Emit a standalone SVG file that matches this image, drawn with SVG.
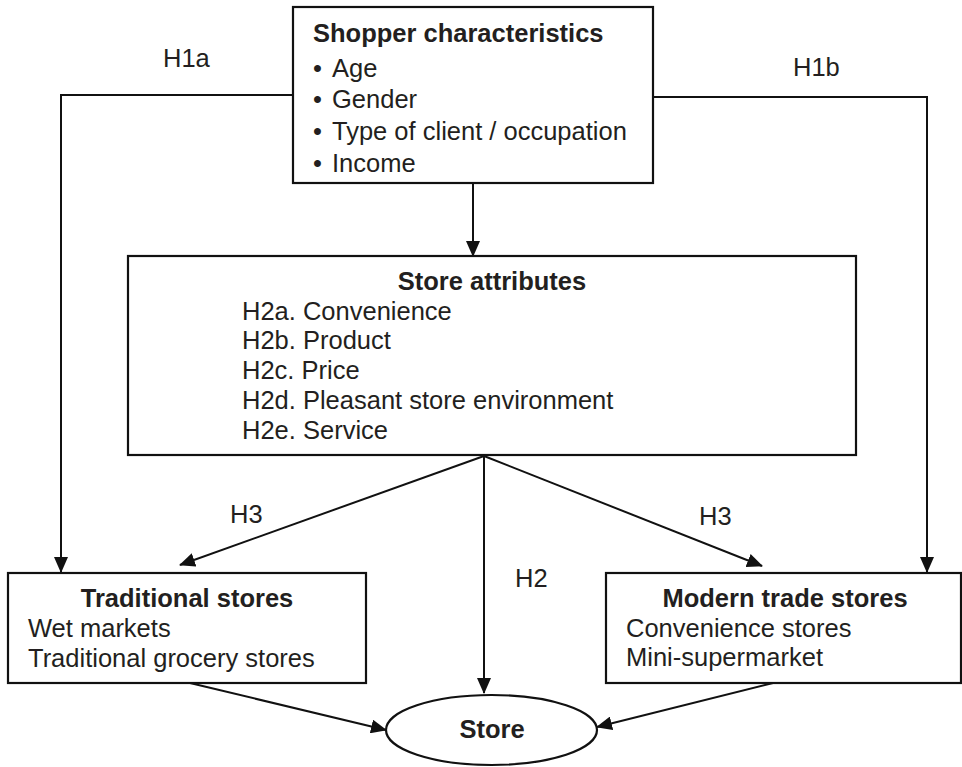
<svg xmlns="http://www.w3.org/2000/svg" width="962" height="767" viewBox="0 0 962 767">
<style>
text{font-family:"Liberation Sans",Arial,sans-serif;font-size:25.5px;fill:#231f20}
.b{font-weight:bold}
.box{fill:#fff;stroke:#111;stroke-width:2.2}
.c{fill:none;stroke:#111;stroke-width:2}
</style>
<defs>
<marker id="ah" markerUnits="userSpaceOnUse" markerWidth="16" markerHeight="14" refX="15" refY="7" orient="auto" viewBox="0 0 16 14">
<path d="M0,0 L16,7 L0,14 z" fill="#111"/>
</marker>
</defs>
<rect width="962" height="767" fill="#fff"/>
<g id="connectors">
<path class="c" d="M473,183 V256" marker-end="url(#ah)"/>
<path class="c" d="M293,95 H61 V572" marker-end="url(#ah)"/>
<path class="c" d="M653,97 H927 V572" marker-end="url(#ah)"/>
<path class="c" d="M484,456 L180,565" marker-end="url(#ah)"/>
<path class="c" d="M484,456 L762,566" marker-end="url(#ah)"/>
<path class="c" d="M484,456 V693" marker-end="url(#ah)"/>
<path class="c" d="M190,683 L386,730" marker-end="url(#ah)"/>
<path class="c" d="M773,683 L597,727" marker-end="url(#ah)"/>
<text x="163" y="67">H1a</text>
<text x="793" y="76">H1b</text>
<text x="230" y="523">H3</text>
<text x="699" y="525">H3</text>
<text x="515" y="587">H2</text>
</g>
<g id="shopper">
<rect class="box" x="293" y="7" width="360" height="176"/>
<text class="b" x="313" y="42">Shopper characteristics</text>
<text x="313" y="77">•<tspan x="332">Age</tspan></text>
<text x="313" y="108">•<tspan x="332">Gender</tspan></text>
<text x="313" y="140">•<tspan x="332">Type of client / occupation</tspan></text>
<text x="313" y="172">•<tspan x="332">Income</tspan></text>
</g>
<g id="attributes">
<rect class="box" x="128" y="256" width="728" height="199"/>
<text class="b" x="492" y="290" text-anchor="middle">Store attributes</text>
<text x="242" y="320">H2a. Convenience</text>
<text x="242" y="349">H2b. Product</text>
<text x="242" y="379">H2c. Price</text>
<text x="242" y="409">H2d. Pleasant store environment</text>
<text x="242" y="439">H2e. Service</text>
</g>
<g id="traditional">
<rect class="box" x="8" y="573" width="358" height="110"/>
<text class="b" x="187" y="607" text-anchor="middle">Traditional stores</text>
<text x="28" y="637">Wet markets</text>
<text x="28" y="667">Traditional grocery stores</text>
</g>
<g id="modern">
<rect class="box" x="606" y="573" width="355" height="110"/>
<text class="b" x="785" y="607" text-anchor="middle">Modern trade stores</text>
<text x="626" y="637">Convenience stores</text>
<text x="626" y="666">Mini-supermarket</text>
</g>
<g id="store">
<ellipse class="box" cx="491.5" cy="730" rx="105.5" ry="35"/>
<text class="b" x="492" y="738" text-anchor="middle">Store</text>
</g>
</svg>
